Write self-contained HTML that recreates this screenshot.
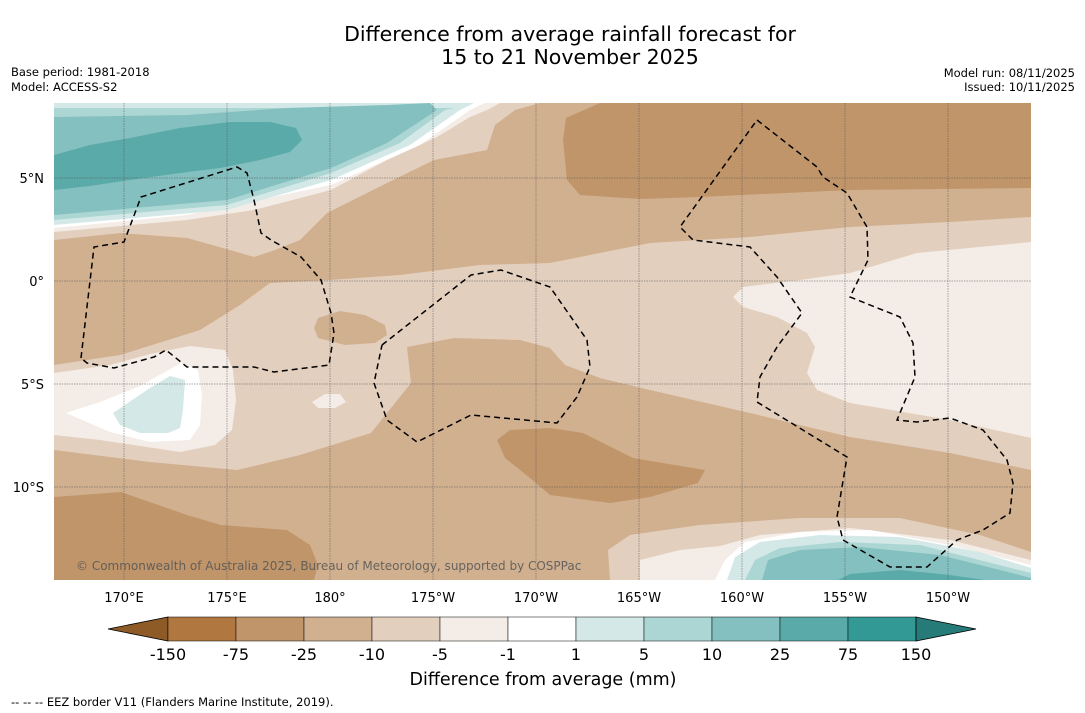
<!DOCTYPE html>
<html><head><meta charset="utf-8"><style>
body{margin:0;background:#fff;width:1085px;height:713px;overflow:hidden;font-family:"DejaVu Sans","Liberation Sans",sans-serif;}
svg{position:absolute;left:0;top:0;}
text{font-family:"DejaVu Sans","Liberation Sans",sans-serif;}
</style></head><body>
<svg id="fig" width="1085" height="713" viewBox="0 0 1085 713">
<defs><clipPath id="mapclip"><rect x="54" y="103" width="977" height="477"/></clipPath></defs>
<text x="570" y="41" font-size="20.5" text-anchor="middle">Difference from average rainfall forecast for</text>
<text x="570" y="64" font-size="20.5" text-anchor="middle">15 to 21 November 2025</text>
<text x="11" y="76" font-size="11.5">Base period: 1981-2018</text>
<text x="11" y="91" font-size="11.5">Model: ACCESS-S2</text>
<text x="1075" y="77" font-size="11.5" text-anchor="end">Model run: 08/11/2025</text>
<text x="1075" y="91" font-size="11.5" text-anchor="end">Issued: 10/11/2025</text>

<g clip-path="url(#mapclip)">
<rect x="54" y="103" width="977" height="477" fill="#d1b090"/>
<polygon fill="#e3cfbe" points="54,103 540,103 515,110 495,125 487,150 434,160 387,183 327,213 300,240 275,250 254,257 230,250 187,238 121,233 54,240"/>
<polygon fill="#f4ece6" points="54,103 500,103 487,110 470,117 437,137 387,160 331,190 254,210 187,220 54,232"/>
<polygon fill="#ffffff" points="54,103 485,103 470,110 420,145 331,185 187,215 54,228"/>
<polygon fill="#d4e9e7" points="54,103 474,103 460,110 410,145 331,180 227,210 54,225"/>
<polygon fill="#acd6d4" points="54,108 454,108 445,110 400,143 331,173 227,205 54,220"/>
<polygon fill="#84c0bf" points="54,117 187,115 287,108 387,105 430,103 437,110 387,143 331,168 227,200 54,215"/>
<polygon fill="#5aaaa9" points="54,155 90,145 130,138 180,128 230,122 270,122 296,128 302,140 290,152 260,160 220,168 180,173 130,180 90,186 54,190"/>
<polygon fill="#c0956a" points="600,103 1031,103 1031,188 850,190 700,197 640,199 580,195 567,180 563,140 566,118"/>
<polygon fill="#e3cfbe" points="54,365 120,355 200,330 240,305 270,283 330,280 400,275 480,265 550,263 650,243 750,237 850,227 950,222 1031,217 1031,470 950,453 850,437 750,413 650,390 600,378 565,365 550,348 520,340 454,338 407,347 411,383 371,433 300,455 237,470 150,462 54,450"/>
<polygon fill="#d1b090" points="318,318 340,311 365,315 385,325 387,335 375,343 345,345 318,338 314,328"/>
<polygon fill="#f4ece6" points="54,373 110,365 150,354 190,346 225,350 233,370 236,400 232,430 215,445 180,452 140,446 100,440 54,435"/>
<polygon fill="#ffffff" points="66,413 100,402 140,386 181,363 198,370 202,395 200,425 190,440 150,442 110,432"/>
<polygon fill="#d4e9e7" points="113,413 150,388 170,376 185,380 183,410 180,428 168,433 140,433 120,425"/>
<polygon fill="#f4ece6" points="312,402 325,394 340,394 346,402 335,408 318,408"/>
<polygon fill="#f4ece6" points="733,297 743,287 800,280 850,273 917,253 1031,242 1031,438 950,420 850,403 817,390 807,373 815,347 807,333 777,317 743,307"/>
<polygon fill="#c0956a" points="497,440 510,430 550,428 583,433 633,458 705,470 698,483 650,497 610,503 550,495 530,478 505,458"/>
<polygon fill="#c0956a" points="54,497 121,492 187,515 221,525 287,530 310,545 318,565 314,580 54,580"/>
<polygon fill="#e3cfbe" points="610,580 608,550 630,535 700,525 800,518 900,518 980,535 1031,552 1031,580"/>
<polygon fill="#f4ece6" points="640,580 640,560 680,550 720,546 760,535 850,528 950,540 1031,560 1031,580"/>
<polygon fill="#ffffff" points="715,580 725,560 745,542 800,532 870,530 950,545 1031,565 1031,580"/>
<polygon fill="#d4e9e7" points="727,580 735,557 760,542 820,535 900,537 980,552 1031,568 1031,580"/>
<polygon fill="#acd6d4" points="745,580 755,560 780,548 840,542 920,545 1031,573 1031,580"/>
<polygon fill="#84c0bf" points="762,580 768,560 800,550 860,547 940,555 1000,570 1031,578 1031,580"/>
<polygon fill="#5aaaa9" points="838,580 850,574 900,570 950,575 985,580"/>
<g id="grid"></g>
<g fill="none" stroke="#000" stroke-width="1.5" stroke-dasharray="6,4">
<polyline points="81,358 94,247 124,242 141,197 237,167 247,173 254,200 261,233 271,240 301,257 321,280 331,313 334,333 329,365 274,372 254,367 187,367 166,350 154,357 114,368 87,363 81,358"/>
<polyline points="382,345 471,275 501,270 550,287 587,340 590,367 577,397 557,423 471,415 417,442 387,420 374,383 382,345"/>
<polyline points="757,120 817,167 823,177 847,193 867,227 868,260 850,297 900,317 913,343 915,377 897,420 917,422 950,418 983,430 1007,460 1013,483 1010,513 983,530 957,540 927,567 890,567 843,540 837,517 847,457 757,402 760,377 777,347 802,313 777,277 750,247 693,240 680,227 757,120"/>
</g>
<text x="76" y="570" font-size="12" fill="#555" opacity="0.85">© Commonwealth of Australia 2025, Bureau of Meteorology, supported by COSPPac</text>
</g>
<g id="axes"></g>
<g id="cbar"></g>
<text x="543" y="685" font-size="17.5" text-anchor="middle">Difference from average (mm)</text>
<text x="11" y="706" font-size="11.5">--  --  -- EEZ border V11 (Flanders Marine Institute, 2019).</text>
</svg>
<script>
const lonTicks=[170,175,180,-175,-170,-165,-160,-155,-150];
const lonLabels=["170°E","175°E","180°","175°W","170°W","165°W","160°W","155°W","150°W"];
const latTicks=[5,0,-5,-10];
const latLabels=["5°N","0°","5°S","10°S"];
const cbarLevels=["-150","-75","-25","-10","-5","-1","1","5","10","25","75","150"];
const cbarColors=["#b07840","#c0956a","#d1b090","#e3cfbe","#f4ece6","#ffffff","#d4e9e7","#acd6d4","#84c0bf","#5aaaa9","#339995"];
const NS="http://www.w3.org/2000/svg";
function lonX(l){const e=l<0?360+l:l;return 124+(e-170)*20.6;}
function latY(l){return 281-l*20.6;}
const grid=document.getElementById('grid'),axes=document.getElementById('axes'),cb=document.getElementById('cbar');
function mk(tag,a,p){const e=document.createElementNS(NS,tag);for(const k in a)e.setAttribute(k,a[k]);p.appendChild(e);return e;}
lonTicks.forEach((l,i)=>{const x=lonX(l);
 const g=mk('line',{x1:x,x2:x,y1:103,y2:580,stroke:'#555','stroke-width':0.5,'stroke-dasharray':'1.5,1'},grid);
 
 
 const t=mk('text',{x:x,y:602,'font-size':13,'text-anchor':'middle'},axes);t.textContent=lonLabels[i];
 
 });
latTicks.forEach((l,i)=>{const y=latY(l);
 const g=mk('line',{x1:54,x2:1031,y1:y,y2:y,stroke:'#555','stroke-width':0.5,'stroke-dasharray':'1.5,1'},grid);
 
 
 const t=mk('text',{x:44,y:y+5,'font-size':13,'text-anchor':'end'},axes);t.textContent=latLabels[i];
 
 });
const x0=168,w=68,y0=617,h=24;
const la=mk('polygon',{points:`108,${y0+h/2} ${x0},${y0} ${x0},${y0+h}`,fill:'#8e5a26',stroke:'#000','stroke-width':0.8},cb);


cbarColors.forEach((c,i)=>{const r=mk('rect',{x:x0+i*w,y:y0,width:w,height:h,fill:c,stroke:'#000','stroke-width':0.5},cb);
 
 });
const xe=x0+cbarColors.length*w;
const ra=mk('polygon',{points:`${xe},${y0} ${xe+60},${y0+h/2} ${xe},${y0+h}`,fill:'#267a77',stroke:'#000','stroke-width':0.8},cb);


cbarLevels.forEach((s,i)=>{const t=mk('text',{x:x0+i*w,y:y0+h+19,'font-size':16,'text-anchor':'middle'},cb);t.textContent=s;
 
 });
</script>
</body></html>
